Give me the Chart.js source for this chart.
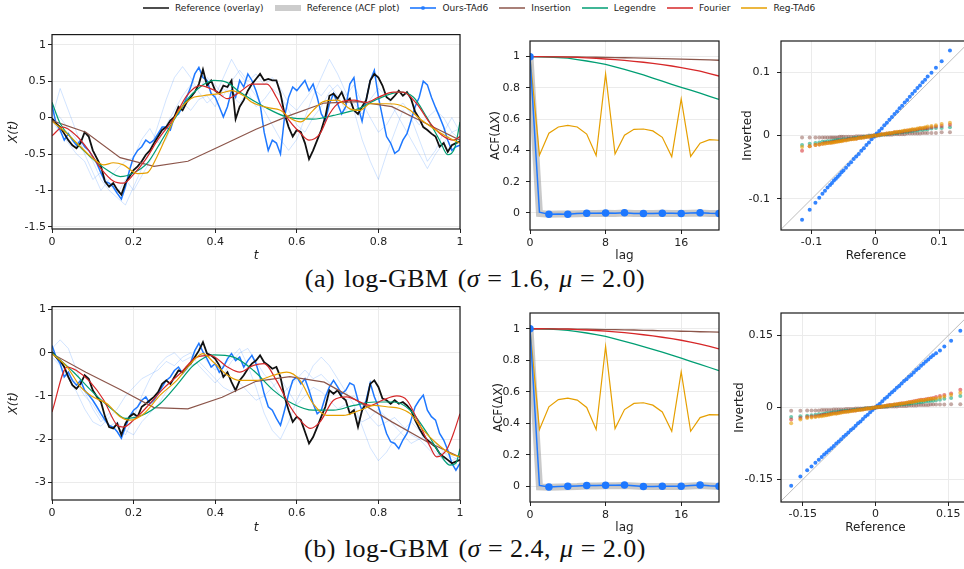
<!DOCTYPE html>
<html>
<head>
<meta charset="utf-8">
<script src="https://cdn.jsdelivr.net/npm/chart.js@4.4.1/dist/chart.umd.min.js"></script>
<style>
  html, body { margin: 0; padding: 0; background: #fff; width: 964px; height: 569px; overflow: hidden; position: relative; }
  canvas { position: absolute; }
  .legend { position: absolute; top: 3px; left: 143px; display: flex; align-items: center; font: 9px 'DejaVu Sans'; color: #222; white-space: nowrap; }
  .legend .item { display: flex; align-items: center; margin-right: 11px; }
  .legend .sw { position: relative; width: 26px; margin-right: 6px; }
  .legend .dot { position: absolute; left: 11px; width: 4px; height: 4px; border-radius: 2px; }
  .cap { position: absolute; left: 0; width: 950px; text-align: center; font-family: 'Liberation Serif'; font-size: 26px; color: #111; word-spacing: 2px; letter-spacing: 0.5px; }
  .cap .eq { margin: 0 7px; }
</style>
</head>
<body>
<div class="legend" id="legend"></div>
<div class="cap" style="top:264px">(a) log-GBM (<i>σ</i><span class="eq">=</span>1.6, <i>μ</i><span class="eq">=</span>2.0)</div>
<div class="cap" style="top:534px">(b) log-GBM (<i>σ</i><span class="eq">=</span>2.4, <i>μ</i><span class="eq">=</span>2.0)</div>
<script>
// ---- legend ----
const legendLabels = ['Reference (overlay)', 'Reference (ACF plot)', 'Ours-TAd6', 'Insertion', 'Legendre', 'Fourier', 'Reg-TAd6'];

// ---- time-series panels (t grid 0..1 step 0.01 for the rough paths) ----
const tFine = Array.from({ length: 101 }, (_, i) => i / 100);
const tCoarse = Array.from({ length: 51 }, (_, i) => i / 50);

const refPath1 = [-0.01,-0.08,-0.13,-0.22,-0.31,-0.38,-0.42,-0.35,-0.2,-0.26,
  -0.45,-0.56,-0.67,-0.88,-0.95,-0.9,-0.99,-1.06,-0.9,-0.81,
  -0.72,-0.67,-0.6,-0.51,-0.45,-0.35,-0.26,-0.17,-0.13,-0.04,
  0.01,0.15,0.1,0.21,0.28,0.35,0.46,0.66,0.44,0.51,
  0.37,0.33,0.44,0.42,0.51,-0.02,0.15,0.24,0.37,0.46,
  0.53,0.6,0.51,0.53,0.51,0.51,0.33,0.05,-0.13,-0.26,
  -0.17,-0.2,-0.35,-0.57,-0.45,-0.31,-0.17,0.01,0.3,0.33,
  0.26,0.35,0.21,0.26,0.1,0.05,0.15,0.24,0.51,0.6,
  0.55,0.44,0.28,0.24,0.3,0.37,0.3,0.35,0.26,0.08,
  -0.01,-0.13,-0.17,-0.22,-0.26,-0.4,-0.35,-0.47,-0.38,-0.35,
  -0.33];
const oursPath1 = [0.17,-0.08,-0.17,-0.31,-0.22,-0.31,-0.38,-0.31,-0.4,-0.45,
  -0.54,-0.63,-0.76,-0.88,-0.9,-0.95,-1.04,-1.12,-0.95,-0.72,
  -0.54,-0.45,-0.4,-0.31,-0.35,-0.31,-0.22,-0.13,-0.13,-0.17,
  0.01,0.05,0.15,0.28,0.42,0.6,0.69,0.55,0.51,0.33,
  0.28,0.15,0.01,0.15,0.37,0.28,0.51,0.42,0.6,0.51,
  0.37,0.19,-0.2,-0.45,-0.31,-0.35,-0.5,0.01,0.28,0.42,
  0.37,0.44,0.51,0.37,0.46,0.28,0.05,-0.04,0.19,0.33,
  0.19,0.05,0.15,0.46,0.55,0.15,-0.05,0.24,0.51,0.65,
  0.28,0.01,-0.26,-0.35,-0.49,-0.45,-0.31,-0.22,-0.04,0.15,
  0.28,0.5,0.45,0.28,0.14,0.01,-0.13,-0.31,-0.45,-0.4,
  -0.38];
const faintA1 = [0.1,0,-0.15,-0.3,-0.45,-0.6,-0.85,-1,-1.1,-1.2,-0.95,-0.7,-0.45,-0.1,0.25,0.55,0.7,0.55,0.35,0.2,0.3,0.55,0.8,0.6,0.45,0.3,0.1,-0.1,-0.3,-0.45,-0.3,0,0.3,0.55,0.8,0.6,0.35,0.1,-0.3,-0.6,-0.85,-0.5,-0.2,0.1,0,-0.3,-0.6,-0.45,-0.2,0,-0.2];
const faintB1 = [0,0.4,0.1,-0.2,-0.5,-0.75,-1,-0.85,-0.7,-0.6,-0.55,-0.3,-0.15,-0.35,-0.1,0.1,0.3,0.45,0.4,0.55,0.45,0.3,0.5,0.65,0.5,0.6,0.45,0.55,0.4,0.2,0.1,0.25,0.4,0.3,0.45,0.3,0.1,0.2,0.05,0.25,0.4,0.3,0.1,-0.1,-0.3,-0.5,-0.7,-0.5,-0.35,-0.2,-0.3];
const faintC1 = [-0.05,-0.2,-0.35,-0.5,-0.6,-0.85,-0.75,-0.9,-1.05,-0.85,-1,-0.8,-0.6,-0.4,-0.3,0,0.2,0.1,0.25,0.3,0.15,0.4,0.3,0.2,0.35,0.15,0.25,0.4,0.3,0.1,-0.1,-0.2,0,0.15,0.35,0.45,0.3,0.45,0.2,0,-0.2,-0.1,0.1,0.2,0.05,-0.1,0,0.1,0,-0.2,-0.15];
const insertion1 = [[0,-0.04],[0.083,-0.2],[0.167,-0.55],[0.25,-0.67],[0.333,-0.6],[0.417,-0.38],[0.5,-0.16],[0.583,0.03],[0.667,0.2],[0.75,0.22],[0.833,0.15],[0.917,-0.08],[1,-0.31]];
const legendre1 = [[0,0.21],[0.02,-0.08],[0.053,-0.31],[0.094,-0.54],[0.135,-0.72],[0.167,-0.81],[0.2,-0.76],[0.233,-0.63],[0.265,-0.35],[0.298,-0.04],[0.33,0.24],[0.363,0.42],[0.396,0.51],[0.43,0.48],[0.46,0.35],[0.52,0.15],[0.575,0.01],[0.64,-0.02],[0.69,0.03],[0.75,0.12],[0.8,0.26],[0.853,0.35],[0.886,0.28],[0.918,0.01],[0.95,-0.31],[0.97,-0.51],[0.988,-0.4],[1,-0.06]];
const fourier1 = [[0,-0.25],[0.027,-0.13],[0.06,-0.25],[0.09,-0.45],[0.12,-0.7],[0.15,-0.87],[0.175,-0.9],[0.2,-0.78],[0.23,-0.57],[0.26,-0.3],[0.3,0],[0.33,0.3],[0.363,0.44],[0.4,0.37],[0.43,0.26],[0.46,0.35],[0.49,0.46],[0.527,0.46],[0.55,0.28],[0.575,0.01],[0.61,-0.22],[0.63,-0.31],[0.657,-0.22],[0.68,0.05],[0.706,0.21],[0.74,0.24],[0.77,0.21],[0.8,0.28],[0.837,0.35],[0.86,0.35],[0.894,0.19],[0.927,-0.08],[0.96,-0.26],[0.984,-0.31],[1,-0.26]];
const regTAd1 = [[0,-0.05],[0.037,-0.22],[0.07,-0.4],[0.1,-0.56],[0.127,-0.65],[0.15,-0.62],[0.175,-0.65],[0.21,-0.77],[0.233,-0.76],[0.257,-0.54],[0.28,-0.26],[0.306,0.05],[0.34,0.26],[0.37,0.3],[0.41,0.33],[0.44,0.37],[0.47,0.3],[0.49,0.21],[0.527,0.14],[0.56,0.1],[0.584,-0.01],[0.61,-0.06],[0.64,0.1],[0.665,0.22],[0.7,0.24],[0.73,0.12],[0.755,0.1],[0.78,0.19],[0.82,0.19],[0.853,0.17],[0.878,0.1],[0.9,-0.01],[0.935,-0.15],[0.967,-0.26],[1,-0.35]];

const refPath2 = [0.02,-0.1,-0.18,-0.33,-0.56,-0.75,-0.83,-0.72,-0.52,-0.6,
  -0.87,-1.02,-1.14,-1.48,-1.72,-1.75,-1.64,-1.9,-1.64,-1.48,
  -1.41,-1.48,-1.25,-1.18,-1.1,-1.02,-0.91,-0.72,-0.64,-0.72,
  -0.56,-0.41,-0.45,-0.33,-0.25,-0.1,0.05,0.25,-0.02,-0.06,
  -0.14,-0.29,-0.56,-0.45,-0.68,-0.87,-0.64,-0.52,-0.37,-0.25,
  -0.18,-0.06,-0.22,-0.29,-0.37,-0.33,-0.56,-1.02,-1.33,-1.6,
  -1.48,-1.56,-1.83,-2.1,-1.95,-1.72,-1.48,-1.25,-0.87,-0.95,
  -0.87,-1.02,-1.1,-1.41,-1.33,-1.72,-1.33,-1.18,-0.72,-0.64,
  -0.79,-1.06,-1.1,-1.18,-1.1,-1.18,-1.14,-1.22,-1.33,-1.56,
  -1.75,-1.91,-2.02,-2.1,-2.18,-2.33,-2.41,-2.48,-2.56,-2.52,
  -2.48];
const oursPath2 = [0.17,-0.1,-0.25,-0.56,-0.45,-0.64,-0.75,-0.64,-0.87,-0.98,
  -1.1,-1.25,-1.41,-1.56,-1.68,-1.72,-1.83,-1.98,-1.72,-1.48,
  -1.33,-1.25,-1.1,-1.02,-1.18,-1.1,-0.95,-0.79,-0.64,-0.56,
  -0.41,-0.33,-0.48,-0.37,-0.22,0.05,0.22,0.02,-0.14,-0.33,
  -0.25,-0.45,-0.33,-0.14,-0.02,-0.18,-0.1,-0.33,-0.18,-0.06,
  -0.25,-0.56,-0.95,-1.25,-1.33,-1.52,-1.68,-1.33,-0.95,-0.64,
  -0.56,-0.72,-0.6,-0.87,-1.18,-1.41,-1.33,-1.02,-0.79,-0.64,
  -0.79,-0.95,-0.87,-0.7,-0.75,-1.1,-1.33,-1.1,-0.7,-1.02,
  -1.25,-1.56,-1.87,-2.06,-2.1,-2.22,-2.02,-1.87,-1.56,-1.25,
  -1.1,-0.98,-1.33,-1.48,-1.56,-1.87,-2.02,-2.25,-2.56,-2.72,
  -2.56];
const faintA2 = [0.1,0.3,0.1,-0.4,-0.9,-1.3,-1.6,-1.4,-1.7,-1.9,-1.5,-1,-0.6,-0.3,-0.1,0,-0.2,-0.1,0,-0.2,-0.4,-0.3,-0.1,0.1,-0.3,-0.8,-1.4,-1.8,-2,-1.6,-1.1,-0.7,-0.3,-0.1,-0.3,-0.6,-0.9,-1.2,-1.7,-2.2,-2.5,-2.3,-2,-1.8,-1.6,-1.8,-2.1,-2.3,-2.5,-2.6,-2.6];
const faintB2 = [0,-0.2,-0.5,-0.7,-1,-1.2,-1.5,-1.7,-1.6,-1.8,-1.9,-1.6,-1.4,-1.2,-0.9,-0.6,-0.4,-0.3,-0.2,-0.4,-0.6,-0.8,-0.9,-0.7,-0.9,-1.1,-1,-0.8,-0.6,-0.9,-1.2,-1,-0.8,-0.9,-1.1,-1.3,-1.2,-1.4,-1.6,-1.5,-1.3,-1.5,-1.7,-1.9,-2.1,-2,-2.2,-2.4,-2.3,-2.5,-2.4];
const faintC2 = [-0.1,-0.3,-0.6,-0.9,-1.3,-1.6,-1.7,-1.5,-1.3,-1,-0.8,-0.6,-0.5,-0.4,-0.2,-0.3,-0.1,0,-0.3,-0.5,-0.7,-0.5,-0.2,0,0.1,-0.2,-0.5,-0.7,-1,-0.8,-0.6,-0.4,-0.6,-0.5,-0.7,-0.9,-1.1,-1,-1.2,-1.5,-1.7,-1.6,-1.5,-1.7,-1.9,-2,-1.9,-2.1,-2.3,-2.4,-2.5];
const insertion2 = [[0,-0.02],[0.083,-0.45],[0.167,-0.85],[0.25,-1.27],[0.333,-1.3],[0.417,-1.03],[0.5,-0.66],[0.583,-0.55],[0.667,-0.68],[0.75,-1.12],[0.833,-1.6],[0.917,-2.05],[1,-2.42]];
const legendre2 = [[0,0],[0.053,-0.45],[0.1,-0.91],[0.15,-1.33],[0.18,-1.52],[0.22,-1.45],[0.265,-1.18],[0.306,-0.75],[0.347,-0.29],[0.396,-0.05],[0.445,-0.1],[0.494,-0.41],[0.543,-0.87],[0.59,-1.18],[0.64,-1.33],[0.69,-1.33],[0.74,-1.22],[0.79,-1.14],[0.837,-1.14],[0.878,-1.33],[0.92,-1.87],[0.95,-2.33],[0.975,-2.6],[0.99,-2.56],[1,-2.22]];
const fourier2 = [[0,-1.37],[0.037,-0.33],[0.06,-0.41],[0.094,-0.68],[0.127,-1.1],[0.16,-1.68],[0.175,-1.72],[0.2,-1.56],[0.233,-1.25],[0.273,-0.83],[0.314,-0.48],[0.355,-0.1],[0.388,-0.06],[0.43,-0.33],[0.46,-0.45],[0.494,-0.29],[0.52,-0.25],[0.55,-0.64],[0.584,-1.25],[0.616,-1.64],[0.633,-1.75],[0.657,-1.6],[0.69,-1.1],[0.722,-1.02],[0.755,-1.14],[0.78,-1.22],[0.81,-1.1],[0.845,-1],[0.87,-1.1],[0.9,-1.64],[0.927,-2.18],[0.943,-2.41],[0.967,-2.25],[0.984,-1.87],[1,-1.41]];
const regTAd2 = [[0,-0.02],[0.037,-0.33],[0.07,-0.79],[0.1,-1.02],[0.135,-1.18],[0.167,-1.48],[0.19,-1.56],[0.225,-1.41],[0.265,-0.98],[0.306,-0.64],[0.34,-0.25],[0.37,-0.02],[0.396,-0.22],[0.43,-0.52],[0.46,-0.64],[0.5,-0.64],[0.543,-0.52],[0.575,-0.45],[0.608,-0.64],[0.64,-1.18],[0.673,-1.45],[0.714,-1.45],[0.755,-1.33],[0.79,-1.22],[0.82,-1.25],[0.853,-1.29],[0.878,-1.41],[0.91,-1.79],[0.943,-2.1],[0.975,-2.33],[1,-2.41]];

// ---- ACF panels ----
const lags = [0,1,2,3,4,5,6,7,8,9,10,11,12,13,14,15,16,17,18,19,20];
const acfRef1 = [1,-0.004,-0.008,-0.006,-0.006,-0.005,-0.003,-0.004,-0.002,-0.003,-0.001,-0.003,-0.004,-0.003,-0.002,-0.004,-0.004,-0.002,-0.001,-0.003,-0.003];
const acfOurs1 = [1,0.005,-0.009,-0.006,-0.009,-0.004,-0.002,-0.002,0,-0.002,0.001,-0.003,-0.004,-0.003,-0.002,-0.002,-0.003,-0.001,0.002,-0.002,-0.003];
const acfIns1 = [1,1,1,0.999,0.999,0.998,0.997,0.996,0.995,0.994,0.993,0.992,0.99,0.989,0.987,0.986,0.984,0.983,0.981,0.979,0.977];
const acfLeg1 = [1,0.999,0.997,0.994,0.99,0.981,0.972,0.962,0.951,0.935,0.918,0.901,0.883,0.863,0.843,0.823,0.804,0.785,0.766,0.746,0.727];
const acfFou1 = [1,1,0.999,0.998,0.997,0.995,0.992,0.989,0.985,0.981,0.976,0.97,0.964,0.957,0.949,0.94,0.93,0.919,0.907,0.892,0.876];
const acfReg1 = [1,0.37,0.51,0.55,0.56,0.55,0.505,0.367,0.89,0.377,0.497,0.535,0.537,0.525,0.484,0.36,0.73,0.362,0.446,0.469,0.465];

const acfRef2 = [1,-0.004,-0.006,-0.004,-0.003,-0.002,0.001,0.002,0.003,0.003,0.004,0.001,-0.002,-0.001,-0.001,-0.002,-0.001,0.002,0.004,0.001,-0.001];
const acfOurs2 = [1,0.005,-0.004,-0.002,0,0.002,0.004,0.005,0.006,0.007,0.008,0.003,-0.002,-0.001,0,0,0,0.004,0.008,0.003,0];
const acfIns2 = [1,1,1,0.999,0.999,0.998,0.997,0.996,0.995,0.994,0.993,0.992,0.99,0.989,0.987,0.986,0.984,0.983,0.981,0.98,0.979];
const acfLeg2 = [1,0.999,0.997,0.994,0.99,0.982,0.973,0.962,0.951,0.936,0.92,0.904,0.887,0.869,0.851,0.832,0.813,0.793,0.774,0.754,0.734];
const acfFou2 = [1,1,0.999,0.998,0.997,0.995,0.992,0.989,0.985,0.98,0.975,0.969,0.962,0.955,0.946,0.937,0.927,0.915,0.902,0.888,0.872];
const acfReg2 = [1,0.36,0.504,0.55,0.56,0.547,0.5,0.36,0.887,0.366,0.487,0.526,0.53,0.515,0.472,0.349,0.726,0.349,0.436,0.455,0.453];

// ---- Q-Q panels (reference quantiles vs inverted quantiles) ----
const qRef1 = [-0.115,-0.103,-0.094,-0.088,-0.083,-0.079,-0.075,-0.071,-0.068,-0.065,-0.062,-0.059,-0.056,-0.053,-0.05,-0.046,-0.042,-0.038,-0.034,-0.03,-0.026,-0.022,-0.018,-0.014,-0.01,-0.006,-0.002,0.002,0.006,0.01,0.014,0.018,0.022,0.026,0.03,0.034,0.038,0.042,0.046,0.05,0.054,0.058,0.062,0.066,0.07,0.074,0.078,0.082,0.088,0.095,0.104,0.117];
const qOurs1 = [-0.133,-0.117,-0.106,-0.098,-0.092,-0.087,-0.082,-0.078,-0.075,-0.071,-0.068,-0.065,-0.062,-0.058,-0.055,-0.051,-0.046,-0.042,-0.037,-0.033,-0.029,-0.024,-0.02,-0.015,-0.011,-0.006,-0.002,0.003,0.007,0.011,0.016,0.02,0.025,0.029,0.034,0.038,0.043,0.047,0.052,0.056,0.061,0.066,0.07,0.075,0.079,0.084,0.088,0.093,0.099,0.107,0.117,0.134];
const qIns1 = [-0.003,-0.003,-0.003,-0.003,-0.003,-0.003,-0.003,-0.003,-0.003,-0.003,-0.003,-0.003,-0.002,-0.002,-0.002,-0.002,-0.002,-0.002,-0.002,-0.001,-0.001,-0.001,-0.001,-0.001,0,0,0,0,0,0.001,0.001,0.001,0.001,0.001,0.002,0.002,0.002,0.002,0.002,0.003,0.003,0.003,0.003,0.003,0.003,0.004,0.004,0.004,0.004,0.004,0.005,0.005];
const qLeg1 = [-0.015,-0.013,-0.012,-0.011,-0.01,-0.01,-0.009,-0.009,-0.009,-0.008,-0.008,-0.007,-0.007,-0.007,-0.006,-0.006,-0.005,-0.005,-0.004,-0.004,-0.003,-0.003,-0.002,-0.002,-0.001,-0.001,0,0,0.001,0.001,0.002,0.002,0.003,0.003,0.004,0.004,0.005,0.005,0.006,0.006,0.007,0.007,0.008,0.008,0.009,0.009,0.01,0.01,0.011,0.012,0.012,0.013];
const qFou1 = [-0.024,-0.017,-0.015,-0.014,-0.013,-0.012,-0.012,-0.011,-0.011,-0.01,-0.01,-0.009,-0.009,-0.008,-0.008,-0.007,-0.006,-0.006,-0.005,-0.005,-0.004,-0.003,-0.003,-0.002,-0.002,-0.001,0,0,0.001,0.002,0.002,0.003,0.003,0.004,0.005,0.005,0.006,0.006,0.007,0.008,0.008,0.009,0.009,0.01,0.011,0.011,0.012,0.012,0.013,0.014,0.015,0.017];
const qReg1 = [-0.018,-0.017,-0.015,-0.014,-0.013,-0.013,-0.012,-0.012,-0.011,-0.011,-0.01,-0.01,-0.009,-0.009,-0.008,-0.008,-0.007,-0.006,-0.006,-0.005,-0.004,-0.004,-0.003,-0.002,-0.002,-0.001,0,0,0.001,0.002,0.002,0.003,0.004,0.004,0.005,0.006,0.006,0.007,0.008,0.008,0.009,0.01,0.01,0.011,0.012,0.012,0.013,0.014,0.015,0.016,0.018,0.02];

const qRef2 = [-0.174,-0.155,-0.141,-0.132,-0.124,-0.117,-0.111,-0.106,-0.101,-0.096,-0.091,-0.086,-0.081,-0.076,-0.071,-0.066,-0.061,-0.056,-0.051,-0.046,-0.041,-0.036,-0.031,-0.026,-0.021,-0.016,-0.011,-0.006,-0.001,0.004,0.009,0.014,0.019,0.024,0.029,0.034,0.039,0.044,0.049,0.054,0.059,0.064,0.069,0.074,0.079,0.084,0.089,0.094,0.099,0.104,0.109,0.114,0.119,0.125,0.133,0.142,0.156,0.175];
const qOurs2 = [-0.163,-0.144,-0.131,-0.123,-0.115,-0.109,-0.103,-0.098,-0.094,-0.089,-0.085,-0.08,-0.075,-0.071,-0.066,-0.061,-0.057,-0.052,-0.047,-0.043,-0.038,-0.033,-0.029,-0.024,-0.019,-0.015,-0.01,-0.005,-0.001,0.004,0.008,0.013,0.018,0.022,0.027,0.032,0.036,0.041,0.045,0.05,0.055,0.059,0.064,0.068,0.073,0.078,0.082,0.087,0.091,0.096,0.1,0.105,0.109,0.113,0.119,0.127,0.139,0.16];
const qIns2 = [-0.007,-0.007,-0.006,-0.006,-0.006,-0.006,-0.005,-0.005,-0.005,-0.005,-0.005,-0.004,-0.004,-0.004,-0.004,-0.004,-0.003,-0.003,-0.003,-0.003,-0.002,-0.002,-0.002,-0.002,-0.001,-0.001,-0.001,0,0,0,0.001,0.001,0.001,0.001,0.002,0.002,0.002,0.002,0.003,0.003,0.003,0.003,0.004,0.004,0.004,0.004,0.005,0.005,0.005,0.005,0.005,0.006,0.006,0.006,0.006,0.006,0.007,0.007];
const qLeg2 = [-0.02,-0.018,-0.017,-0.016,-0.015,-0.014,-0.014,-0.013,-0.012,-0.012,-0.011,-0.01,-0.01,-0.009,-0.008,-0.008,-0.007,-0.007,-0.006,-0.005,-0.005,-0.004,-0.004,-0.003,-0.002,-0.002,-0.001,-0.001,0,0.001,0.001,0.002,0.002,0.003,0.004,0.004,0.005,0.005,0.006,0.007,0.007,0.008,0.008,0.009,0.01,0.01,0.011,0.011,0.012,0.013,0.013,0.014,0.014,0.015,0.016,0.018,0.02,0.024];
const qFou2 = [-0.025,-0.022,-0.02,-0.019,-0.018,-0.017,-0.016,-0.015,-0.015,-0.014,-0.013,-0.012,-0.012,-0.011,-0.01,-0.009,-0.009,-0.008,-0.007,-0.007,-0.006,-0.005,-0.004,-0.004,-0.003,-0.002,-0.002,-0.001,0,0.001,0.001,0.002,0.003,0.004,0.005,0.005,0.006,0.007,0.008,0.009,0.009,0.01,0.011,0.012,0.013,0.014,0.015,0.016,0.016,0.017,0.018,0.019,0.02,0.022,0.024,0.026,0.029,0.037];
const qReg2 = [-0.033,-0.025,-0.022,-0.021,-0.02,-0.019,-0.018,-0.017,-0.016,-0.015,-0.014,-0.013,-0.013,-0.012,-0.011,-0.01,-0.009,-0.009,-0.008,-0.007,-0.006,-0.005,-0.005,-0.004,-0.003,-0.002,-0.002,-0.001,0,0.001,0.001,0.002,0.003,0.004,0.004,0.005,0.006,0.007,0.008,0.008,0.009,0.01,0.011,0.011,0.012,0.013,0.014,0.015,0.015,0.016,0.017,0.018,0.018,0.019,0.021,0.023,0.026,0.031];

// ---- tick labels ----
const tTicks = [0, 0.2, 0.4, 0.6, 0.8, 1];
const tTickLabels = ['0', '0.2', '0.4', '0.6', '0.8', '1'];
const x1Ticks = [-1.5, -1, -0.5, 0, 0.5, 1];
const x1TickLabels = ['-1.5', '-1', '-0.5', '0', '0.5', '1'];
const x2Ticks = [-3, -2, -1, 0, 1];
const x2TickLabels = ['-3', '-2', '-1', '0', '1'];
const lagTicks = [0, 8, 16];
const lagTickLabels = ['0', '8', '16'];
const acfTicks = [0, 0.2, 0.4, 0.6, 0.8, 1];
const acfTickLabels = ['0', '0.2', '0.4', '0.6', '0.8', '1'];
const qq1Ticks = [-0.1, 0, 0.1];
const qq1TickLabels = ['-0.1', '0', '0.1'];
const qq2Ticks = [-0.15, 0, 0.15];
const qq2TickLabels = ['-0.15', '0', '0.15'];

// ---- colours ----
const C = {
  ref: '#111111', acf: 'rgba(165,165,165,0.6)', ours: '#1e78ff', faint: 'rgba(30,120,255,0.2)',
  ins: '#8c564b', leg: '#009e73', fou: '#d62728', reg: '#e69f00', diag: '#bdbdbd'
};

// legend
const legendSwatches = [
  { color: 'rgba(17,17,17,0.75)', h: 2 },
  { color: 'rgba(170,170,170,0.6)', h: 6 },
  { color: 'rgba(30,120,255,0.8)', h: 2, dot: true },
  { color: 'rgba(140,86,75,0.75)', h: 2 },
  { color: 'rgba(0,158,115,0.75)', h: 2 },
  { color: 'rgba(214,39,40,0.75)', h: 2 },
  { color: 'rgba(230,159,0,0.75)', h: 2 }
];
const legendEl = document.getElementById('legend');
legendLabels.forEach((label, i) => {
  const s = legendSwatches[i];
  const item = document.createElement('div');
  item.className = 'item';
  const sw = document.createElement('div');
  sw.className = 'sw';
  sw.style.height = s.h + 'px';
  sw.style.background = s.color;
  if (s.dot) {
    const d = document.createElement('div');
    d.className = 'dot';
    d.style.top = (s.h / 2 - 2) + 'px';
    d.style.background = s.color;
    sw.appendChild(d);
  }
  const tx = document.createElement('span');
  tx.textContent = label;
  item.appendChild(sw);
  item.appendChild(tx);
  legendEl.appendChild(item);
});

// ---- helpers ----
const frame = {
  id: 'frame',
  afterDatasetsDraw(chart) {
    const { ctx, chartArea: a } = chart;
    ctx.save();
    ctx.strokeStyle = '#1a1a1a';
    ctx.lineWidth = 1.2;
    ctx.strokeRect(a.left, a.top, a.right - a.left, a.bottom - a.top);
    ctx.restore();
  }
};

function axis(spec, size, isX) {
  return {
    type: 'linear', min: spec.min, max: spec.max,
    afterBuildTicks: (sc) => { sc.ticks = spec.ticks.map((v) => ({ value: v })); },
    afterFit: (sc) => { if (isX) sc.height = size; else sc.width = size; },
    grid: { color: '#ebebeb', lineWidth: 1, tickColor: '#222', tickLength: 4 },
    border: { display: false },
    ticks: {
      font: { family: 'DejaVu Sans', size: 11 }, color: '#222', padding: spec.pad,
      maxRotation: 0, autoSkip: false,
      callback: (v, i) => spec.labels[i]
    },
    title: {
      display: true, text: spec.title, color: '#222',
      font: { family: 'DejaVu Sans', size: 12, style: spec.italic ? 'italic' : 'normal' },
      padding: { top: 2, bottom: 3 }
    }
  };
}

function panel(box, area, datasets, xs, ys) {
  const cv = document.createElement('canvas');
  cv.width = box.w; cv.height = box.h;
  cv.style.left = box.x + 'px'; cv.style.top = box.y + 'px';
  document.body.appendChild(cv);
  return new Chart(cv, {
    type: 'scatter',
    data: { datasets },
    options: {
      responsive: false, animation: false, devicePixelRatio: 1,
      layout: { padding: { top: area.t - box.y, right: box.x + box.w - area.r, left: 0, bottom: 0 } },
      plugins: { legend: { display: false }, tooltip: { enabled: false } },
      scales: { x: axis(xs, box.y + box.h - area.b, true), y: axis(ys, area.l - box.x, false) }
    },
    plugins: [frame]
  });
}

const onGrid = (ts, ys) => ts.map((t, i) => ({ x: t, y: ys[i] }));
const pairs = (arr) => arr.map((p) => ({ x: p[0], y: p[1] }));
const lineDs = (data, color, width, extra) => Object.assign({
  data, showLine: true, borderColor: color, backgroundColor: color, borderWidth: width, pointRadius: 0, tension: 0
}, extra || {});
const smooth = { cubicInterpolationMode: 'monotone' };

function seriesSets(ref, ours, faints, ins, leg, fou, reg) {
  return [
    lineDs(pairs(reg), C.reg, 1.2, smooth),
    lineDs(pairs(fou), C.fou, 1.2, smooth),
    lineDs(pairs(leg), C.leg, 1.2, smooth),
    lineDs(pairs(ins), C.ins, 1.2),
    lineDs(onGrid(tFine, ref), C.ref, 1.8),
    lineDs(onGrid(tFine, ours), C.ours, 1.5),
    ...faints.map((f) => lineDs(onGrid(tCoarse, f), C.faint, 1))
  ];
}

function acfSets(ref, ours, ins, leg, fou, reg) {
  return [
    lineDs(onGrid(lags, ours), C.ours, 1.5, { pointRadius: lags.map((l) => (l % 2 === 0 ? 3 : 0)) }),
    lineDs(onGrid(lags, reg), C.reg, 1.2),
    lineDs(onGrid(lags, fou), C.fou, 1.3),
    lineDs(onGrid(lags, leg), C.leg, 1.3),
    lineDs(onGrid(lags, ins), C.ins, 1.3),
    lineDs(onGrid(lags, ref), C.acf, 7)
  ];
}

function qqSets(x, ours, ins, leg, fou, reg, lim) {
  const pts = (ys, color, r) => ({ data: onGrid(x, ys), backgroundColor: color, borderWidth: 0, pointRadius: r });
  return [
    pts(reg, 'rgba(230,159,0,0.6)', 2),
    pts(fou, 'rgba(214,39,40,0.55)', 2),
    pts(leg, 'rgba(0,158,115,0.55)', 2),
    pts(ins, 'rgba(140,86,75,0.5)', 2),
    pts(ours, 'rgba(30,120,255,0.9)', 2),
    lineDs([{ x: -lim, y: -lim }, { x: lim, y: lim }], C.diag, 1)
  ];
}

// ---- row (a) ----
panel({ x: 5, y: 26, w: 465, h: 240 }, { l: 52, t: 34, r: 460, b: 229 },
  seriesSets(refPath1, oursPath1, [faintA1, faintB1, faintC1], insertion1, legendre1, fourier1, regTAd1),
  { min: 0, max: 1, ticks: tTicks, labels: tTickLabels, pad: 3, title: 't', italic: true },
  { min: -1.53, max: 1.14, ticks: x1Ticks, labels: x1TickLabels, pad: 2, title: 'X(t)', italic: true });

panel({ x: 487, y: 26, w: 241, h: 240 }, { l: 530, t: 41, r: 719, b: 230 },
  acfSets(acfRef1, acfOurs1, acfIns1, acfLeg1, acfFou1, acfReg1),
  { min: 0, max: 20, ticks: lagTicks, labels: lagTickLabels, pad: 3, title: 'lag' },
  { min: -0.109, max: 1.1, ticks: acfTicks, labels: acfTickLabels, pad: 6, title: 'ACF(ΔX)' });

panel({ x: 739, y: 26, w: 237, h: 240 }, { l: 781, t: 41, r: 971, b: 230 },
  qqSets(qRef1, qOurs1, qIns1, qLeg1, qFou1, qReg1, 0.2),
  { min: -0.148, max: 0.15, ticks: qq1Ticks, labels: qq1TickLabels, pad: 2, title: 'Reference' },
  { min: -0.149, max: 0.149, ticks: qq1Ticks, labels: qq1TickLabels, pad: 7, title: 'Inverted' });

// ---- row (b) ----
panel({ x: 5, y: 298, w: 465, h: 240 }, { l: 52, t: 306, r: 460, b: 500 },
  seriesSets(refPath2, oursPath2, [faintA2, faintB2, faintC2], insertion2, legendre2, fourier2, regTAd2),
  { min: 0, max: 1, ticks: tTicks, labels: tTickLabels, pad: 3, title: 't', italic: true },
  { min: -3.41, max: 1.07, ticks: x2Ticks, labels: x2TickLabels, pad: 2, title: 'X(t)', italic: true });

panel({ x: 490, y: 298, w: 238, h: 240 }, { l: 530, t: 313, r: 719, b: 502 },
  acfSets(acfRef2, acfOurs2, acfIns2, acfLeg2, acfFou2, acfReg2),
  { min: 0, max: 20, ticks: lagTicks, labels: lagTickLabels, pad: 3, title: 'lag' },
  { min: -0.1, max: 1.1, ticks: acfTicks, labels: acfTickLabels, pad: 6, title: 'ACF(ΔX)' });

panel({ x: 731, y: 298, w: 245, h: 240 }, { l: 781, t: 313, r: 970, b: 502 },
  qqSets(qRef2, qOurs2, qIns2, qLeg2, qFou2, qReg2, 0.25),
  { min: -0.195, max: 0.195, ticks: qq2Ticks, labels: qq2TickLabels, pad: 2, title: 'Reference' },
  { min: -0.197, max: 0.197, ticks: qq2Ticks, labels: qq2TickLabels, pad: 4, title: 'Inverted' });
</script>
</body>
</html>
